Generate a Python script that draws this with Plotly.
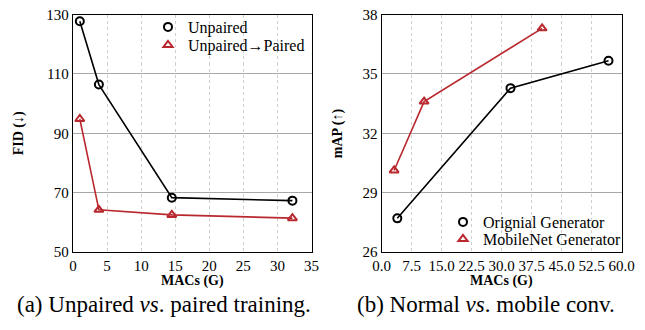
import plotly.graph_objects as go

# Left panel data
macs_unpaired = [1.0, 3.8, 14.5, 32.2]
fid_unpaired = [127.7, 106.4, 68.3, 67.3]
macs_paired = [1.0, 3.8, 14.5, 32.2]
fid_paired = [94.8, 64.2, 62.5, 61.4]

# Right panel data
macs_original = [3.9, 32.2, 56.7]
map_original = [27.7, 34.28, 35.66]
macs_mobile = [3.1, 10.6, 40.1]
map_mobile = [30.12, 33.6, 37.3]

left_yticks = [50, 70, 90, 110, 130]
right_yticks = [26, 29, 32, 35, 38]

series_names = ["Unpaired", "Unpaired→Paired", "Orignial Generator", "MobileNet Generator"]

RED = "#b8282e"
FONT = "Liberation Serif, Times New Roman, serif"
W, H = 645, 330


def marker(symbol, color):
    return dict(symbol=symbol, size=8, color=color, line=dict(width=2, color=color))


fig = go.Figure()

data = [
    (macs_unpaired, fid_unpaired, "black", "circle-open", "x", "y", "legend"),
    (macs_paired, fid_paired, RED, "triangle-up-open", "x", "y", "legend2"),
    (macs_original, map_original, "black", "circle-open", "x2", "y2", "legend3"),
    (macs_mobile, map_mobile, RED, "triangle-up-open", "x2", "y2", "legend4"),
]

for (xs, ys, col, sym, xa, ya, lg), name in zip(data, series_names):
    fig.add_trace(go.Scatter(x=xs, y=ys, mode="lines+markers", name=name,
                             line=dict(color=col, width=1.6), marker=marker(sym, col),
                             xaxis=xa, yaxis=ya, showlegend=False))
    # marker-only legend entry
    fig.add_trace(go.Scatter(x=[None], y=[None], mode="markers", name=name,
                             marker=marker(sym, col), xaxis=xa, yaxis=ya,
                             showlegend=True, legend=lg))

ydom = [1 - 252 / H, 1 - 14.5 / H]
xdom1 = [73 / W, 311.5 / W]
xdom2 = [381.7 / W, 621.7 / W]

common_x = dict(showline=True, linecolor="black", linewidth=1.3, mirror=True,
                showgrid=True, gridcolor="#cfcfcf", griddash="dot", gridwidth=1,
                zeroline=False, ticks="", tickangle=0, automargin=False,
                tickfont=dict(family=FONT, size=15, color="black"))
common_y = dict(showline=True, linecolor="black", linewidth=1.3, mirror=True,
                showgrid=True, gridcolor="#a8a8a8", gridwidth=1, automargin=False,
                zeroline=False, ticks="", tickfont=dict(family=FONT, size=15, color="black"))

leg_common = dict(xanchor="left", yanchor="middle", bgcolor="rgba(0,0,0,0)",
                  font=dict(family=FONT, size=16, color="black"), itemwidth=30,
                  borderwidth=0)

fig.update_layout(
    width=W, height=H, margin=dict(l=0, r=0, t=0, b=0),
    paper_bgcolor="white", plot_bgcolor="white",
    font=dict(family=FONT, color="black"),
    xaxis=dict(common_x, domain=xdom1, range=[0, 35], dtick=5, anchor="y"),
    yaxis=dict(common_y, domain=ydom, range=[50, 130], tickvals=left_yticks, anchor="x"),
    xaxis2=dict(common_x, domain=xdom2, range=[0, 60], dtick=7.5, tickformat=".1f", anchor="y2"),
    yaxis2=dict(common_y, domain=ydom, range=[26, 38], tickvals=right_yticks, anchor="x2"),
    legend=dict(leg_common, x=148 / W, y=1 - 27 / H),
    legend2=dict(leg_common, x=148 / W, y=1 - 45 / H),
    legend3=dict(leg_common, x=443 / W, y=1 - 222 / H),
    legend4=dict(leg_common, x=443 / W, y=1 - 239 / H),
    showlegend=True,
)

title_font = dict(family=FONT, size=14, color="black")
ymid = (ydom[0] + ydom[1]) / 2
# axis titles
fig.add_annotation(text="<b>FID (↓)</b>", xref="paper", yref="paper", x=19 / W, y=ymid,
                   textangle=-90, showarrow=False, xanchor="center", yanchor="middle", font=title_font)
fig.add_annotation(text="<b>mAP (↑)</b>", xref="paper", yref="paper", x=338 / W, y=ymid,
                   textangle=-90, showarrow=False, xanchor="center", yanchor="middle", font=title_font)
fig.add_annotation(text="<b>MACs (G)</b>", xref="paper", yref="paper", x=sum(xdom1) / 2, y=1 - 281 / H,
                   showarrow=False, xanchor="center", yanchor="middle", font=title_font)
fig.add_annotation(text="<b>MACs (G)</b>", xref="paper", yref="paper", x=sum(xdom2) / 2, y=1 - 281 / H,
                   showarrow=False, xanchor="center", yanchor="middle", font=title_font)

# captions
fig.add_annotation(text="(a) Unpaired <i>vs</i>. paired training.", xref="paper", yref="paper",
                   x=164 / W, y=1 - 304 / H, showarrow=False, xanchor="center", yanchor="middle",
                   font=dict(family=FONT, size=23, color="black"))
fig.add_annotation(text="(b) Normal <i>vs</i>. mobile conv.", xref="paper", yref="paper",
                   x=486 / W, y=1 - 304 / H, showarrow=False, xanchor="center", yanchor="middle",
                   font=dict(family=FONT, size=23, color="black"))

fig.write_html("out.html", config={"displayModeBar": False},
               post_script="document.body.style.margin='0';document.body.style.overflow='hidden';")
